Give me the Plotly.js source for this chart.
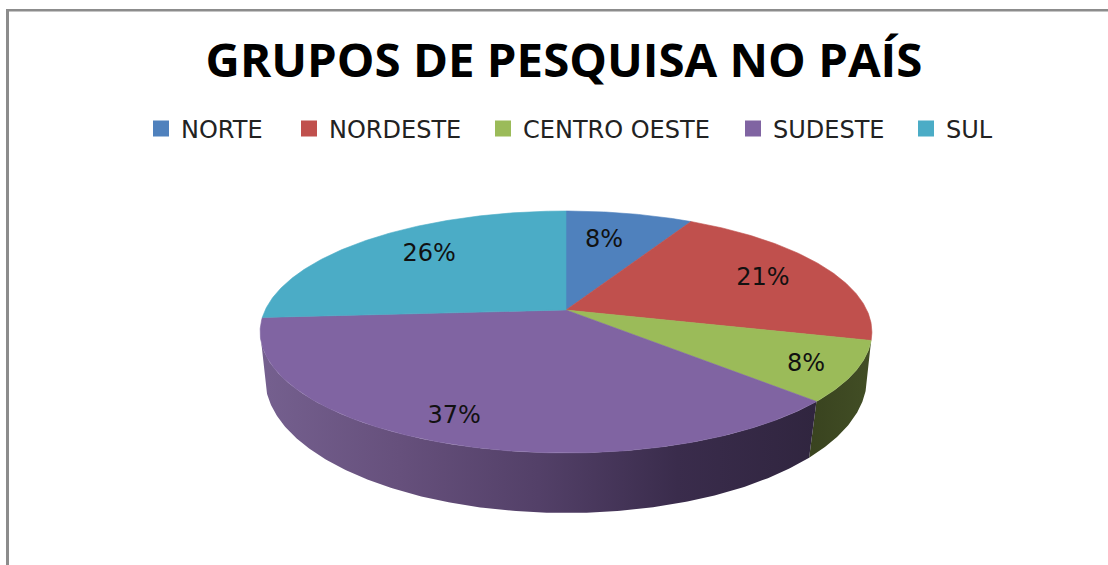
<!DOCTYPE html>
<html>
<head>
<meta charset="utf-8">
<script src="https://cdn.plot.ly/plotly-3.0.1.min.js"></script>
<style>html,body{margin:0;padding:0;background:#fff}#chart{width:1108px;height:565px}</style>
</head>
<body>
<div id="chart"></div>
<script>
const categories = ['NORTE', 'NORDESTE', 'CENTRO OESTE', 'SUDESTE', 'SUL'];
const percentages = [8, 21, 8, 37, 26];
const chartTitle = 'GRUPOS DE PESQUISA NO PAÍS';

const colors = ['#4f81bd', '#c0504d', '#9bbb59', '#8064a2', '#4bacc6'];
const topFace = {a: 300.8, b: 117, cy: 310, p: 0.1818};
const bottomFace = {a: 297, b: 131, cy: 357, p: 0.16};
const cx = 566;
const labelRadius = [0.675, 0.742, 0.853, 0.847, 0.715];
const labelTurn = [-2.3, 1.4, 1.7, 2.3, 2.7];
const legendLeft = [141, 289, 483, 733, 906];
const wallShades = {
  2: [[0, '#39431f'], [1, '#424e25']],
  3: [[0, '#75608f'], [0.25, '#66507c'], [0.5, '#534068'], [0.75, '#3a2c4c'], [1, '#30253f']]
};
const titleFont = '"Open Sans", sans-serif';
const textFont = '"DejaVu Sans", sans-serif';

function project(face, deg, r) {
  const t = deg * Math.PI / 180, X = r * Math.sin(t), Y = r * Math.cos(t), w = 1 + face.p * Y;
  return [cx + face.a * X / w, face.cy - face.b * Y / w];
}
function arc(face, from, to) {
  const n = Math.max(2, Math.ceil(Math.abs(to - from) * 2)), pts = [];
  for (let i = 0; i <= n; i++) pts.push(project(face, from + (to - from) * i / n, 1));
  return pts;
}
const total = percentages.reduce((s, v) => s + v, 0);
let running = 0;
const spans = percentages.map(v => {
  const from = running / total * 360;
  running += v;
  return [from, running / total * 360];
});
// the wall stops where the disc's outline turns away from the viewer
const leftTurn = 360 - Math.acos(-topFace.p) * 180 / Math.PI;

const traces = [];
[2, 3].forEach(i => {
  const from = spans[i][0], to = Math.min(spans[i][1], leftTurn);
  const pts = arc(topFace, from, to).concat(arc(bottomFace, to, from));
  pts.push(pts[0]);
  traces.push({
    type: 'scatter', mode: 'lines', x: pts.map(p => p[0]), y: pts.map(p => p[1]),
    fill: 'toself', line: {width: 0}, hoverinfo: 'skip', showlegend: false,
    fillgradient: {type: 'horizontal', colorscale: wallShades[i]}
  });
});
spans.forEach(([from, to], i) => {
  const pts = [project(topFace, 0, 0)].concat(arc(topFace, from, to));
  pts.push(project(topFace, 0, 0));
  traces.push({
    type: 'scatter', mode: 'lines', x: pts.map(p => p[0]), y: pts.map(p => p[1]),
    fill: 'toself', fillcolor: colors[i], line: {color: colors[i], width: 0.6},
    name: categories[i], hoverinfo: 'name', showlegend: false
  });
});
const labelPts = spans.map(([from, to], i) => project(topFace, (from + to) / 2 + labelTurn[i], labelRadius[i]));
traces.push({
  type: 'scatter', mode: 'text', x: labelPts.map(p => p[0]), y: labelPts.map(p => p[1]),
  text: percentages.map(v => v + '%'), textposition: 'middle center',
  textfont: {family: textFont, size: 24, color: '#111'}, hoverinfo: 'skip', showlegend: false
});
// one small legend per entry, so each can sit at its own place in the row
const legendKey = i => i === 0 ? 'legend' : 'legend' + (i + 1);
categories.forEach((c, i) => traces.push({
  type: 'scatter', mode: 'markers', x: [null], y: [null], name: c, legend: legendKey(i),
  marker: {symbol: 'square', size: 16, color: colors[i]}
}));

const layout = {
  width: 1108, height: 565, margin: {l: 0, r: 0, t: 0, b: 0},
  paper_bgcolor: '#fff', plot_bgcolor: '#fff',
  xaxis: {range: [0, 1108], visible: false, fixedrange: true},
  yaxis: {range: [565, 0], visible: false, fixedrange: true},
  title: {text: '<b>' + chartTitle + '</b>', x: 564 / 1108, xanchor: 'center', xref: 'paper',
    y: 1 - 60 / 565, yanchor: 'middle', yref: 'paper', font: {family: titleFont, size: 47.4, color: '#000'}},
  shapes: [
    {type: 'rect', xref: 'x', yref: 'y', x0: 6, x1: 9, y0: 9, y1: 565, fillcolor: '#8c8c8c', line: {width: 0}},
    {type: 'rect', xref: 'x', yref: 'y', x0: 6, x1: 1108, y0: 9, y1: 11.5, fillcolor: '#8c8c8c', line: {width: 0}}
  ]
};
categories.forEach((c, i) => {
  layout[legendKey(i)] = {
    orientation: 'v', x: legendLeft[i] / 1108, xanchor: 'left', y: 1 - 129 / 565, yanchor: 'middle',
    font: {family: textFont, size: 24, color: '#222'}, bgcolor: 'rgba(0,0,0,0)',
    itemclick: false, itemdoubleclick: false
  };
});
Plotly.newPlot('chart', traces, layout, {displayModeBar: false, responsive: false});
</script>
</body>
</html>
